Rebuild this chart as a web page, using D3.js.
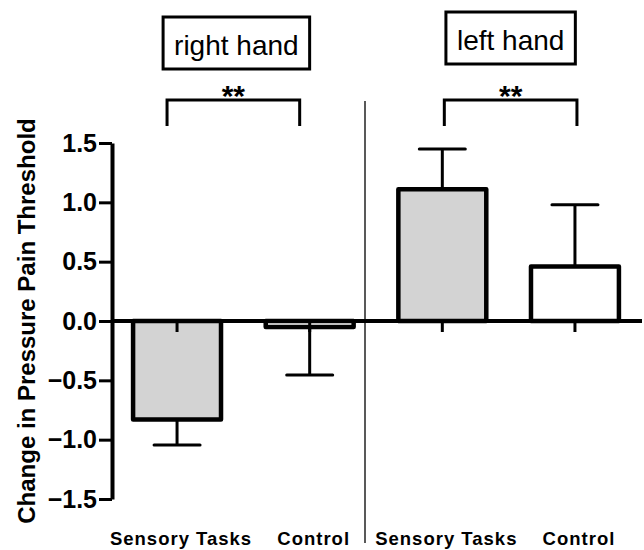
<!DOCTYPE html>
<html>
<head>
<meta charset="utf-8">
<script src="https://cdn.jsdelivr.net/npm/d3@7"></script>
<style>
  body { margin: 0; background: #fff; }
  svg { display: block; font-family: "Liberation Sans", Arial, sans-serif; }
</style>
</head>
<body>
<svg id="chart" width="644" height="550"></svg>
<script>
// data
const groups = ["right hand", "left hand"];
const categories = ["Sensory Tasks", "Control", "Sensory Tasks", "Control"];
const groupOf = [0, 0, 1, 1];
const means = [-0.83, -0.05, 1.11, 0.46];
const sems = [0.215, 0.405, 0.34, 0.52];
const fills = ["#d3d3d3", "#ffffff", "#d3d3d3", "#ffffff"];
const yTicks = [-1.5, -1.0, -0.5, 0.0, 0.5, 1.0, 1.5];
const sigLabels = ["**", "**"];
const yTitle = "Change in Pressure Pain Threshold";

const svg = d3.select("#chart");

const y = d3.scaleLinear().domain([-1.5, 1.5]).range([499, 143]);
const x = d3.scaleBand()
    .domain(d3.range(categories.length))
    .range([110, 642])
    .paddingInner(0.337)
    .paddingOuter(0.174);
const cx = i => x(i) + x.bandwidth() / 2;

// vertical separator between hands
const sepX = (cx(1) + cx(2)) / 2 - 11;
svg.append("line")
    .attr("x1", sepX).attr("x2", sepX)
    .attr("y1", 101).attr("y2", 543)
    .attr("stroke", "#222").attr("stroke-width", 1.5);

// bars
svg.append("g").selectAll("rect")
    .data(means)
    .join("rect")
    .attr("x", (d, i) => x(i))
    .attr("width", x.bandwidth())
    .attr("y", d => y(Math.max(0, d)))
    .attr("height", d => Math.abs(y(d) - y(0)))
    .attr("fill", (d, i) => fills[i])
    .attr("stroke", "#000")
    .attr("stroke-width", 4.5)
    .attr("stroke-linejoin", "round");

// error bars (one-sided, away from zero)
const errG = svg.append("g").attr("stroke", "#000").attr("stroke-width", 3);
means.forEach((m, i) => {
    const end = m + Math.sign(m) * sems[i];
    errG.append("line")
        .attr("x1", cx(i)).attr("x2", cx(i))
        .attr("y1", y(m)).attr("y2", y(end));
    errG.append("line")
        .attr("x1", cx(i) - 23).attr("x2", cx(i) + 23)
        .attr("y1", y(end)).attr("y2", y(end))
        .attr("stroke-linecap", "round");
});

// x axis along zero
const xAxis = svg.append("g")
    .attr("transform", `translate(0,${y(0)})`)
    .call(d3.axisBottom(x).tickSize(11).tickSizeOuter(0).tickFormat(""));
xAxis.select(".domain").attr("stroke-width", 4).attr("d", `M112,0H642`);
xAxis.selectAll(".tick line").attr("stroke-width", 3);

// y axis
const yAxis = svg.append("g")
    .attr("transform", "translate(112,0)")
    .call(d3.axisLeft(y).tickValues(yTicks).tickSize(13).tickSizeOuter(0)
        .tickPadding(2).tickFormat(d3.format(".1f")));
yAxis.select(".domain").attr("stroke-width", 4);
yAxis.selectAll(".tick line").attr("stroke-width", 3);
yAxis.selectAll(".tick text")
    .attr("font-size", 25).attr("font-weight", "bold")
    .attr("font-family", "Liberation Sans, Arial, sans-serif")
    .attr("fill", "#000");

// y title
svg.append("text")
    .attr("transform", `translate(35,${y(0)}) rotate(-90)`)
    .attr("text-anchor", "middle")
    .attr("font-size", 24).attr("font-weight", "bold")
    .text(yTitle);

// category labels
svg.append("g").selectAll("text")
    .data(categories)
    .join("text")
    .attr("x", (d, i) => cx(i) + 4)
    .attr("y", 545)
    .attr("text-anchor", "middle")
    .attr("font-size", 18.5).attr("font-weight", "bold")
    .attr("letter-spacing", 1)
    .text(d => d);

// group title boxes and significance brackets
const boxDx = [-7, 2];
const boxY = [17, 12];
const brDx = [-10, 2];
groups.forEach((g, k) => {
    const idx = d3.range(categories.length).filter(i => groupOf[i] === k);
    const mid = (cx(idx[0]) + cx(idx[idx.length - 1])) / 2;

    const box = svg.append("g");
    const rect = box.append("rect");
    const t = box.append("text")
        .attr("x", mid + boxDx[k])
        .attr("y", boxY[k] + 38)
        .attr("text-anchor", "middle")
        .attr("font-size", 28)
        .text(g);
    const bb = t.node().getBBox();
    rect.attr("x", bb.x - 11).attr("width", bb.width + 22)
        .attr("y", boxY[k]).attr("height", 52)
        .attr("fill", "#fff").attr("stroke", "#000").attr("stroke-width", 3);

    const x1 = cx(idx[0]) + brDx[k], x2 = cx(idx[idx.length - 1]) + brDx[k];
    svg.append("path")
        .attr("d", `M${x1},126V100H${x2}V126`)
        .attr("fill", "none").attr("stroke", "#000").attr("stroke-width", 3);
    svg.append("text")
        .attr("x", (x1 + x2) / 2)
        .attr("y", 106)
        .attr("text-anchor", "middle")
        .attr("font-size", 30).attr("font-weight", "bold")
        .text(sigLabels[k]);
});
</script>
</body>
</html>
